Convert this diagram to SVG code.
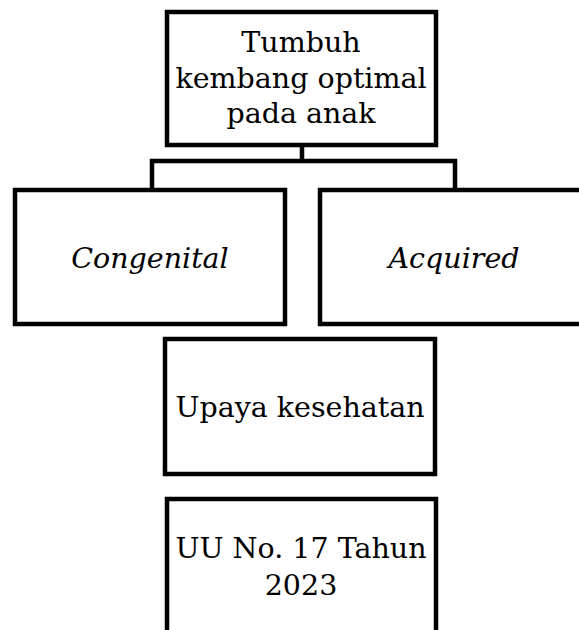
<svg xmlns="http://www.w3.org/2000/svg" width="579" height="630" viewBox="0 0 579 630">
<style>
.box{fill:#fff;stroke:#000;stroke-width:4.5}
.t{font-family:"DejaVu Serif","Liberation Serif",serif;font-size:28.5px;fill:#000;text-anchor:middle}
.i{font-style:italic}
.c{fill:none;stroke:#000;stroke-width:4.5}
</style>
<rect width="579" height="630" fill="#fff"/>
<g id="connectors">
<path class="c" d="M302 147V161M150 161H457M152 159V190M455 159V190"/>
</g>
<g id="n1">
<rect class="box" x="167" y="12" width="269" height="133"/>
<text class="t" x="301" y="52">Tumbuh</text>
<text class="t" x="301" y="88">kembang optimal</text>
<text class="t" x="301" y="123">pada anak</text>
</g>
<g id="n2">
<rect class="box" x="15" y="190" width="270" height="134"/>
<text class="t i" x="150" y="268">Congenital</text>
</g>
<g id="n3">
<rect class="box" x="320" y="190" width="270" height="134"/>
<text class="t i" x="454" y="268">Acquired</text>
</g>
<g id="n4">
<rect class="box" x="165" y="339" width="270" height="135"/>
<text class="t" x="300" y="417">Upaya kesehatan</text>
</g>
<g id="n5">
<rect class="box" x="167" y="499" width="269" height="150"/>
<text class="t" x="301" y="558">UU No. 17 Tahun</text>
<text class="t" x="301" y="595">2023</text>
</g>
</svg>
